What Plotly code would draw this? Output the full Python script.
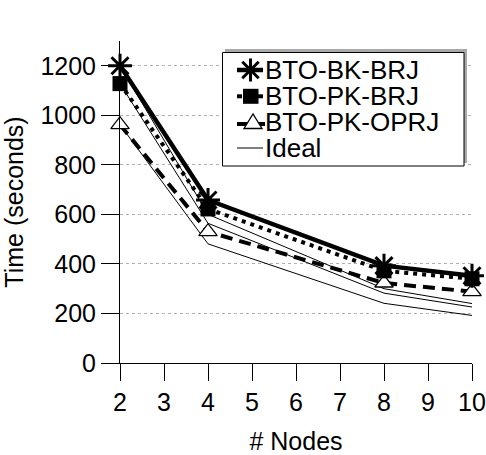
import plotly.graph_objects as go

# Cluster size on the x axis
nodes = [2, 4, 8, 10]

# Measured run times (seconds)
bto_bk_brj = [1200, 658, 393, 352]
bto_pk_brj = [1128, 622, 372, 340]
bto_pk_oprj = [962, 530, 323, 288]

# Ideal (linear speed-up) curves for each method
ideal_bk_brj = [1200, 600, 300, 240]
ideal_pk_brj = [1128, 564, 282, 226]
ideal_pk_oprj = [962, 481, 241, 192]

y_ticks = [0, 200, 400, 600, 800, 1000, 1200]
x_ticks = [2, 3, 4, 5, 6, 7, 8, 9, 10]

legend_labels = ["BTO-BK-BRJ", "BTO-PK-BRJ", "BTO-PK-OPRJ", "Ideal"]

FONT = "Liberation Sans, Arial, Helvetica, sans-serif"
FS = 25
LEG_FS = 26

# Plot-area frame in pixels (fixed margins)
W, H = 486, 455
ML, MR, MT, MB = 120, 14, 41, 92
PW, PH = W - ML - MR, H - MT - MB


def px(x):
    return (x - ML) / PW


def py(y):
    return (H - MB - y) / PH


fig = go.Figure()

# Ideal lines first so the measured curves sit on top
for ys in [ideal_bk_brj, ideal_pk_brj, ideal_pk_oprj]:
    fig.add_trace(go.Scatter(
        x=nodes, y=ys, mode="lines", name="Ideal",
        line=dict(color="black", width=1),
        showlegend=False, cliponaxis=False, hoverinfo="skip",
    ))

fig.add_trace(go.Scatter(
    x=nodes, y=bto_pk_oprj, mode="lines+markers", name=legend_labels[2],
    line=dict(color="black", width=4, dash="12px,7px"),
    marker=dict(symbol="triangle-up", size=16, color="white",
                line=dict(color="black", width=1.3)),
    showlegend=False, cliponaxis=False,
))
fig.add_trace(go.Scatter(
    x=nodes, y=bto_pk_brj, mode="lines+markers", name=legend_labels[1],
    line=dict(color="black", width=4, dash="4px,5px"),
    marker=dict(symbol="square", size=15, color="black"),
    showlegend=False, cliponaxis=False,
))
fig.add_trace(go.Scatter(
    x=nodes, y=bto_bk_brj, mode="lines+markers", name=legend_labels[0],
    line=dict(color="black", width=4.5),
    marker=dict(symbol="asterisk-open", size=20, color="black",
                line=dict(color="black", width=3)),
    showlegend=False, cliponaxis=False,
))

# ---- Boxed legend with drop shadow ----
shapes = []
shapes.append(dict(type="rect", xref="paper", yref="paper",
                   x0=px(225), x1=px(467), y0=py(163), y1=py(49),
                   fillcolor="#a9a9a9", line=dict(width=0), layer="above"))
shapes.append(dict(type="rect", xref="paper", yref="paper",
                   x0=px(222.5), x1=px(464), y0=py(166), y1=py(52.5),
                   fillcolor="white", line=dict(color="black", width=1),
                   layer="above"))

row_y = [70, 96.3, 122.5, 148]
sx0, sx1 = 237, 263


def seg(x0, x1, y, w):
    return dict(type="line", xref="paper", yref="paper",
                x0=px(x0), x1=px(x1), y0=py(y), y1=py(y),
                line=dict(color="black", width=w), layer="above")


# row 1: thick solid line + asterisk
y = row_y[0]
cx = 250.5
shapes.append(seg(sx0, sx1, y, 4.5))
r, d = 11.5, 8.2
ast = (f"M{px(cx - r)},{py(y)} L{px(cx + r)},{py(y)} "
       f"M{px(cx)},{py(y - r)} L{px(cx)},{py(y + r)} "
       f"M{px(cx - d)},{py(y - d)} L{px(cx + d)},{py(y + d)} "
       f"M{px(cx - d)},{py(y + d)} L{px(cx + d)},{py(y - d)}")
shapes.append(dict(type="path", xref="paper", yref="paper", path=ast,
                   line=dict(color="black", width=3), layer="above"))

# row 2: dotted stubs + filled square
y = row_y[1]
shapes.append(seg(237, 242, y, 4))
shapes.append(seg(258, 263, y, 4))
shapes.append(dict(type="rect", xref="paper", yref="paper",
                   x0=px(243), x1=px(258.5), y0=py(y + 7.5), y1=py(y - 7.5),
                   fillcolor="black", line=dict(width=0), layer="above"))

# row 3: dashed stubs + open triangle
y = 124
shapes.append(seg(237, 265, y, 4))
tri = (f"M{px(244)},{py(128.5)} L{px(262)},{py(128.5)} "
       f"L{px(253)},{py(114)} Z")
shapes.append(dict(type="path", xref="paper", yref="paper", path=tri,
                   fillcolor="white", line=dict(color="black", width=1.3),
                   layer="above"))

# row 4: thin line
shapes.append(seg(sx0, sx1, row_y[3], 1))

annotations = []
for label, yy in zip(legend_labels, row_y):
    annotations.append(dict(
        text=label, xref="paper", yref="paper", x=px(262.5), y=py(yy),
        xanchor="left", yanchor="middle", showarrow=False,
        font=dict(family=FONT, size=LEG_FS, color="black"),
    ))

fig.update_layout(
    width=W, height=H,
    margin=dict(l=ML, r=MR, t=MT, b=MB),
    paper_bgcolor="white", plot_bgcolor="white",
    font=dict(family=FONT, size=FS, color="black"),
    showlegend=False,
    shapes=shapes,
    annotations=annotations,
    xaxis=dict(
        range=[2, 10], tickvals=x_ticks, automargin=False,
        showgrid=False, zeroline=False,
        showline=True, linecolor="black", linewidth=1,
        ticks="outside", ticklen=17, tickwidth=1, tickcolor="black",
        title=dict(text="# Nodes", standoff=24,
                   font=dict(family=FONT, size=FS, color="black")),
        tickfont=dict(size=FS),
    ),
    yaxis=dict(
        range=[0, 1300], tickvals=y_ticks, automargin=False,
        showgrid=True, gridcolor="#b0b0b0", gridwidth=1, griddash="dot",
        zeroline=False,
        showline=True, linecolor="black", linewidth=1,
        ticks="outside", ticklen=18, tickwidth=1, tickcolor="black",
        title=dict(text="Time (seconds)", standoff=10,
                   font=dict(family=FONT, size=FS, color="black")),
        tickfont=dict(size=FS),
    ),
)

fig.write_html("out.html")
